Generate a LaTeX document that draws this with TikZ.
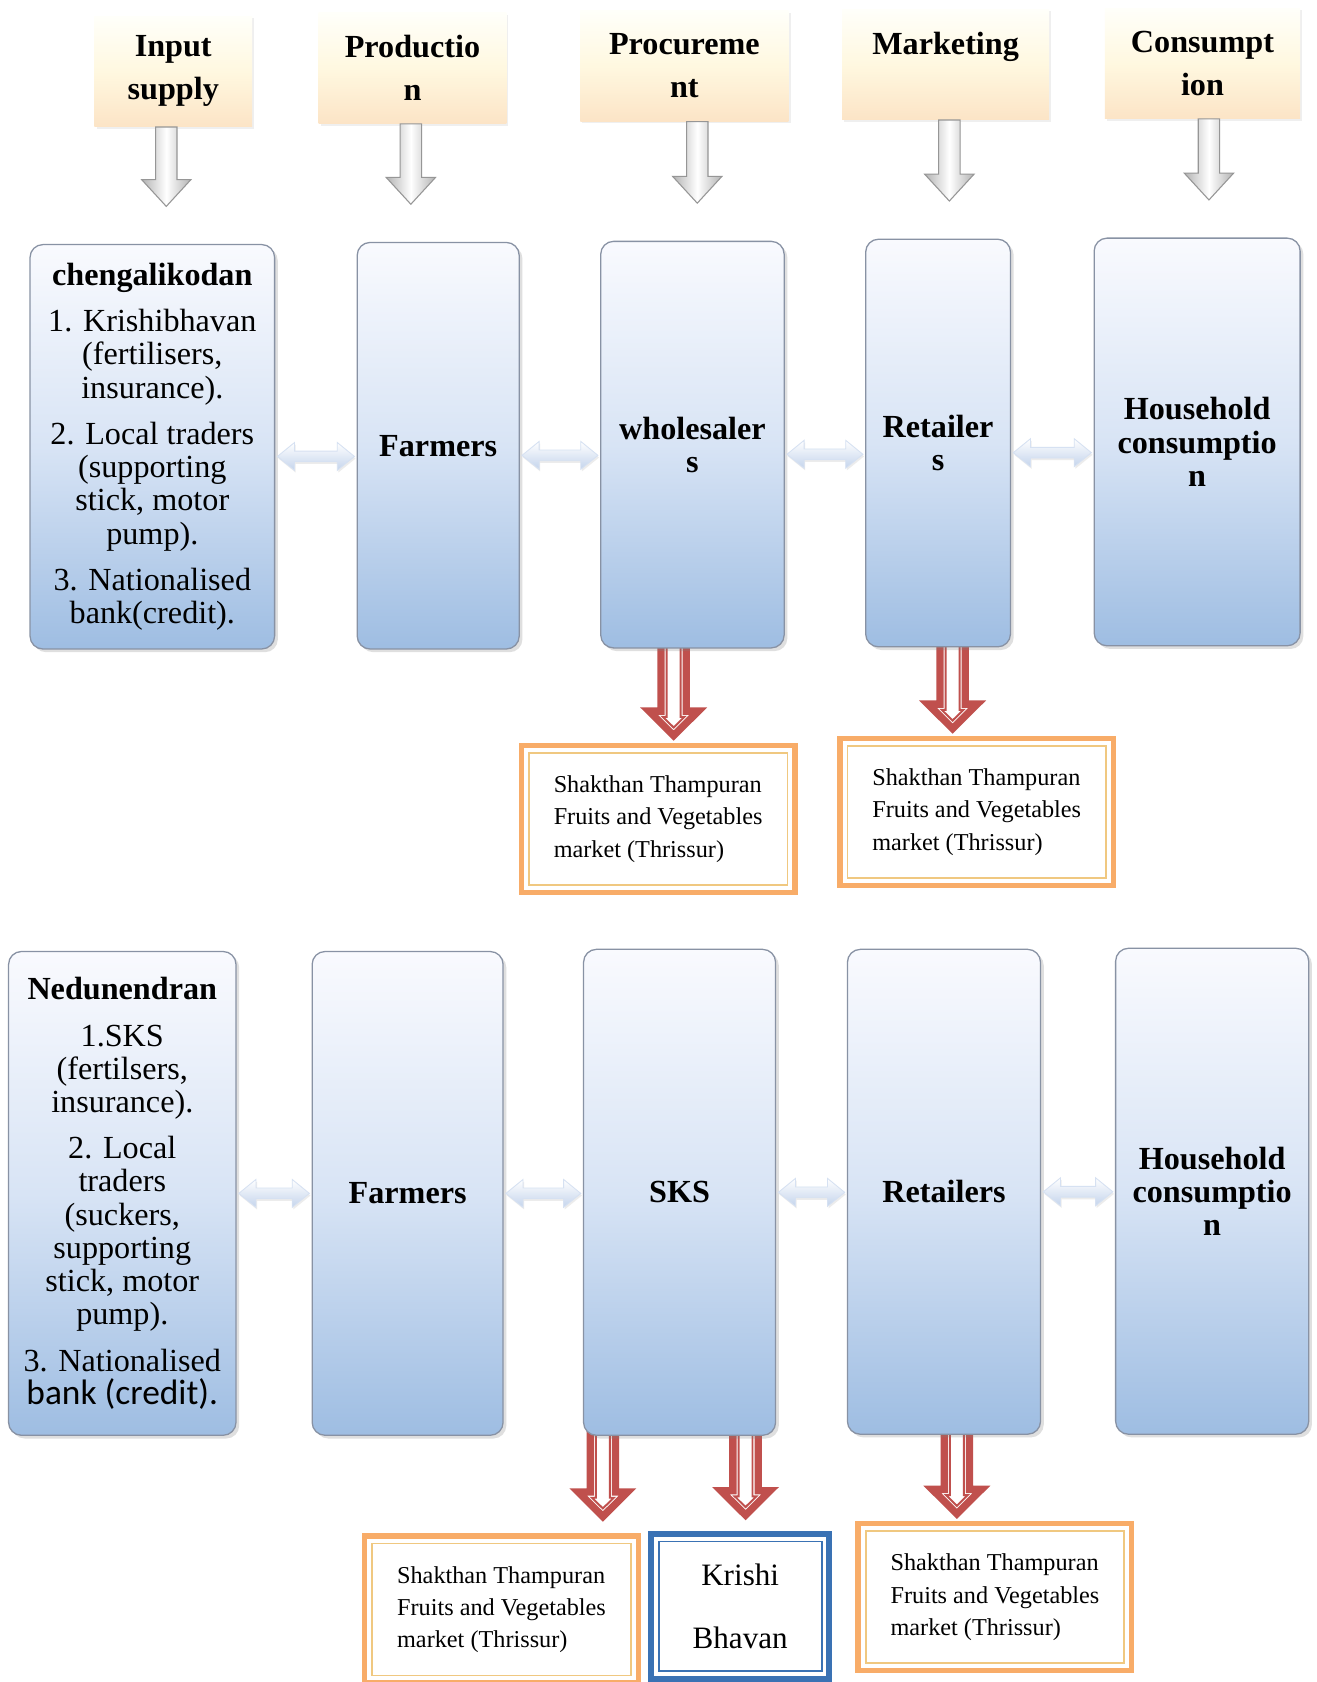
\documentclass[tikz,border=0pt]{standalone}
\usepackage{fontspec}
\setmainfont{Liberation Serif}
\newfontfamily\calibrifont{Carlito}
\usetikzlibrary{calc,shadows,backgrounds}

\definecolor{stagetop}{RGB}{249,250,254}
\definecolor{stagemid}{RGB}{216,228,245}
\definecolor{stagebot}{RGB}{158,189,226}
\definecolor{stageline}{RGB}{136,146,164}
\definecolor{headtop}{RGB}{255,255,250}
\definecolor{headmid}{RGB}{255,248,224}
\definecolor{headbot}{RGB}{252,228,198}
\definecolor{arrowred}{RGB}{192,80,77}
\definecolor{arrowgray}{RGB}{150,150,150}
\definecolor{mktorange}{RGB}{248,172,104}
\definecolor{mktinner}{RGB}{240,200,128}
\definecolor{kbblue}{RGB}{58,114,180}
\definecolor{linkblue}{RGB}{196,212,236}

\tikzset{
  headbox/.style={minimum height=51.5pt, inner sep=1pt,
    top color=headtop, bottom color=headbot, middle color=headmid,
    drop shadow={shadow xshift=1pt, shadow yshift=-1pt, opacity=0.12},
    font=\bfseries\fontsize{15}{20}\selectfont, align=center},
  stagebox/.style={rounded corners=6pt, draw=stageline, line width=0.6pt, inner sep=1pt,
    top color=stagetop, bottom color=stagebot, middle color=stagemid,
    drop shadow={shadow xshift=1.5pt, shadow yshift=-1.5pt, opacity=0.25},
    font=\fontsize{15}{15.5}\selectfont, align=center},
  framed/.style 2 args={draw=#1, fill=white, inner sep=1pt,
    path picture={\draw[#2, line width=0.8pt]
      ([shift={(3.5pt,-3.5pt)}]path picture bounding box.north west) rectangle
      ([shift={(-3.5pt,3.5pt)}]path picture bounding box.south east);}},
  mktbox/.style={framed={mktorange}{mktinner}, line width=2.5pt,
    minimum width=127.5pt, minimum height=68.5pt,
    font=\fontsize{11.3}{15}\selectfont, align=left},
  kbbox/.style={framed={kbblue}{kbblue}, line width=2.8pt,
    minimum width=83pt, minimum height=67.5pt,
    font=\fontsize{14.5}{29.5}\selectfont, align=center},
  grayarrow/.style={draw=arrowgray, line width=0.5pt,
    left color=gray!60, right color=gray!60, middle color=white,
    to path={let \p1=(\tikztostart), \p2=(\tikztotarget) in
      (\x1-5pt,\y1) -- (\x1+5pt,\y1) -- (\x1+5pt,\y2+12.5pt) -- (\x1+11.5pt,\y2+12.5pt)
      -- (\x1,\y2) -- (\x1-11.5pt,\y2+12.5pt) -- (\x1-5pt,\y2+12.5pt) -- cycle}},
  redarrow/.style={fill=arrowred, even odd rule,
    to path={let \p1=(\tikztostart), \p2=(\tikztotarget) in
      (\x1-7.6pt,\y1) -- (\x1+7.6pt,\y1) -- (\x1+7.6pt,\y2+15.5pt) -- (\x1+15.6pt,\y2+15.5pt)
      -- (\x1,\y2) -- (\x1-15.6pt,\y2+15.5pt) -- (\x1-7.6pt,\y2+15.5pt) -- cycle
      (\x1-4.2pt,\y1) -- (\x1+4.2pt,\y1) -- (\x1+4.2pt,\y2+12.1pt) -- (\x1+7.35pt,\y2+12.1pt)
      -- (\x1,\y2+4.8pt) -- (\x1-7.35pt,\y2+12.1pt) -- (\x1-4.2pt,\y2+12.1pt) -- cycle
      (\x1-3.7pt,\y1) -- (\x1+3.7pt,\y1) -- (\x1+3.7pt,\y2+11.6pt) -- (\x1+6.15pt,\y2+11.6pt)
      -- (\x1,\y2+5.5pt) -- (\x1-6.15pt,\y2+11.6pt) -- (\x1-3.7pt,\y2+11.6pt) -- cycle
      (\x1-2.8pt,\y1) -- (\x1+2.8pt,\y1) -- (\x1+2.8pt,\y2+10.7pt) -- (\x1+4pt,\y2+10.7pt)
      -- (\x1,\y2+6.8pt) -- (\x1-4pt,\y2+10.7pt) -- (\x1-2.8pt,\y2+10.7pt) -- cycle}},
  linkarrow/.style={draw=linkblue!70!white, line width=0.4pt,
    top color=white, bottom color=linkblue,
    drop shadow={shadow xshift=0.5pt, shadow yshift=-1pt, opacity=0.15},
    to path={let \p1=(\tikztostart), \p2=(\tikztotarget) in
      (\x1,\y1) -- (\x1+8pt,\y1+6.5pt) -- (\x1+8pt,\y1+2.5pt) -- (\x2-8pt,\y1+2.5pt)
      -- (\x2-8pt,\y1+6.5pt) -- (\x2,\y1) -- (\x2-8pt,\y1-6.5pt) -- (\x2-8pt,\y1-2.5pt)
      -- (\x1+8pt,\y1-2.5pt) -- (\x1+8pt,\y1-6.5pt) -- cycle}}
}

\begin{document}
\begin{tikzpicture}[x=0.5pt, y=-0.5pt]
  \useasboundingbox (0,0) rectangle (1227,1568);
  \begin{scope}[on background layer]
    \fill[white] (0,0) rectangle (1227,1568);
  \end{scope}

  \node[headbox, minimum width=73.5pt] (hd1) at (161.5,66.5) {Input\\supply};
  \node[headbox, minimum width=87.5pt] (hd2) at (384.5,63.5) {Productio\\n};
  \node[headbox, minimum width=97pt] (hd3) at (638,61.5) {Procureme\\nt};
  \node[headbox, minimum width=96.5pt] (hd4) at (881.5,60) {Marketing\\\mbox{}};
  \node[headbox, minimum width=91pt] (hd5) at (1121,59) {Consumpt\\ion};

  \node[stagebox, minimum width=114pt, minimum height=188.5pt] (s1) at (142,416.5)
    {\textbf{chengalikodan}\\[6pt]1. Krishibhavan\\(fertilisers,\\insurance).\\[6pt]2. Local traders\\(supporting\\stick, motor\\pump).\\[6pt]3. Nationalised\\bank(credit).};
  \node[stagebox, minimum width=75.5pt, minimum height=189.5pt] (s2) at (408.5,415.5) {\textbf{Farmers}};
  \node[stagebox, minimum width=85.5pt, minimum height=189.5pt] (s3) at (645.5,414.5) {\textbf{wholesaler}\\\textbf{s}};
  \node[stagebox, minimum width=67.5pt, minimum height=190pt] (s4) at (874.5,413) {\textbf{Retailer}\\\textbf{s}};
  \node[stagebox, minimum width=96pt, minimum height=190pt] (s5) at (1116,412) {\textbf{Household}\\\textbf{consumptio}\\\textbf{n}};

  \node[stagebox, minimum width=106pt, minimum height=225.5pt] (t1) at (114,1112.5)
    {\textbf{Nedunendran}\\[6pt]1.SKS\\(fertilsers,\\insurance).\\[6pt]2. Local\\traders\\(suckers,\\supporting\\stick, motor\\pump).\\[6pt]3. Nationalised\\{\calibrifont\fontsize{16.5}{15.5}\selectfont bank (credit).}};
  \node[stagebox, minimum width=89pt, minimum height=225.5pt] (t2) at (380,1112.5) {\textbf{Farmers}};
  \node[stagebox, minimum width=89.5pt, minimum height=226.5pt] (t3) at (633.5,1111.5) {\textbf{SKS}};
  \node[stagebox, minimum width=90pt, minimum height=226pt] (t4) at (880,1111) {\textbf{Retailers}};
  \node[stagebox, minimum width=90pt, minimum height=226.5pt] (t5) at (1130,1110.5) {\textbf{Household}\\\textbf{consumptio}\\\textbf{n}};

  \node[mktbox] (mk1) at (613.5,763.5) {Shakthan Thampuran\\Fruits and Vegetables\\market (Thrissur)};
  \node[mktbox] (mk2) at (910.5,757) {Shakthan Thampuran\\Fruits and Vegetables\\market (Thrissur)};
  \node[mktbox] (mk3) at (467.5,1500.5) {Shakthan Thampuran\\Fruits and Vegetables\\market (Thrissur)};
  \node[kbbox] (kb) at (690,1497.5) {Krishi\\Bhavan};
  \node[mktbox] (mk4) at (927.5,1489) {Shakthan Thampuran\\Fruits and Vegetables\\market (Thrissur)};

  \path[grayarrow] ([xshift=-3.25pt]hd1.south) to ([yshift=17.5pt]s1.north);
  \path[grayarrow] ([xshift=-0.75pt]hd2.south) to ([yshift=17.5pt]s2.north);
  \path[grayarrow] ([xshift=6pt]hd3.south) to ([yshift=17.5pt]s3.north);
  \path[grayarrow] ([xshift=1.75pt]hd4.south) to ([yshift=17.5pt]s4.north);
  \path[grayarrow] ([xshift=3pt]hd5.south) to ([yshift=17.5pt]s5.north);

  \path[linkarrow] ([shift={(1pt,-4.5pt)}]s1.east) to ([xshift=-1pt]s2.west);
  \path[linkarrow] ([shift={(1pt,-4.5pt)}]s2.east) to ([xshift=-1pt]s3.west);
  \path[linkarrow] ([shift={(1pt,-4.5pt)}]s3.east) to ([xshift=-1pt]s4.west);
  \path[linkarrow] ([shift={(1pt,-4.5pt)}]s4.east) to ([xshift=-1pt]s5.west);
  \path[linkarrow] ([xshift=1pt]t1.east) to ([xshift=-1pt]t2.west);
  \path[linkarrow] ([xshift=1pt]t2.east) to ([xshift=-1pt]t3.west);
  \path[linkarrow] ([xshift=1pt]t3.east) to ([xshift=-1pt]t4.west);
  \path[linkarrow] ([xshift=1pt]t4.east) to ([xshift=-1pt]t5.west);

  \begin{scope}[on background layer]
    \path[redarrow] ([shift={(-8.75pt,3pt)}]s3.south) to ([yshift=1pt]mk1.north);
    \path[redarrow] ([shift={(6.75pt,3pt)}]s4.south) to ([yshift=1pt]mk2.north);
    \path[redarrow] ([shift={(-35.75pt,3pt)}]t3.south) to ([yshift=5.5pt]mk3.north);
    \path[redarrow] ([shift={(30.75pt,3pt)}]t3.south) to ([yshift=5pt]kb.north);
    \path[redarrow] ([shift={(6pt,3pt)}]t4.south) to ([yshift=1pt]mk4.north);
  \end{scope}
\end{tikzpicture}
\end{document}
